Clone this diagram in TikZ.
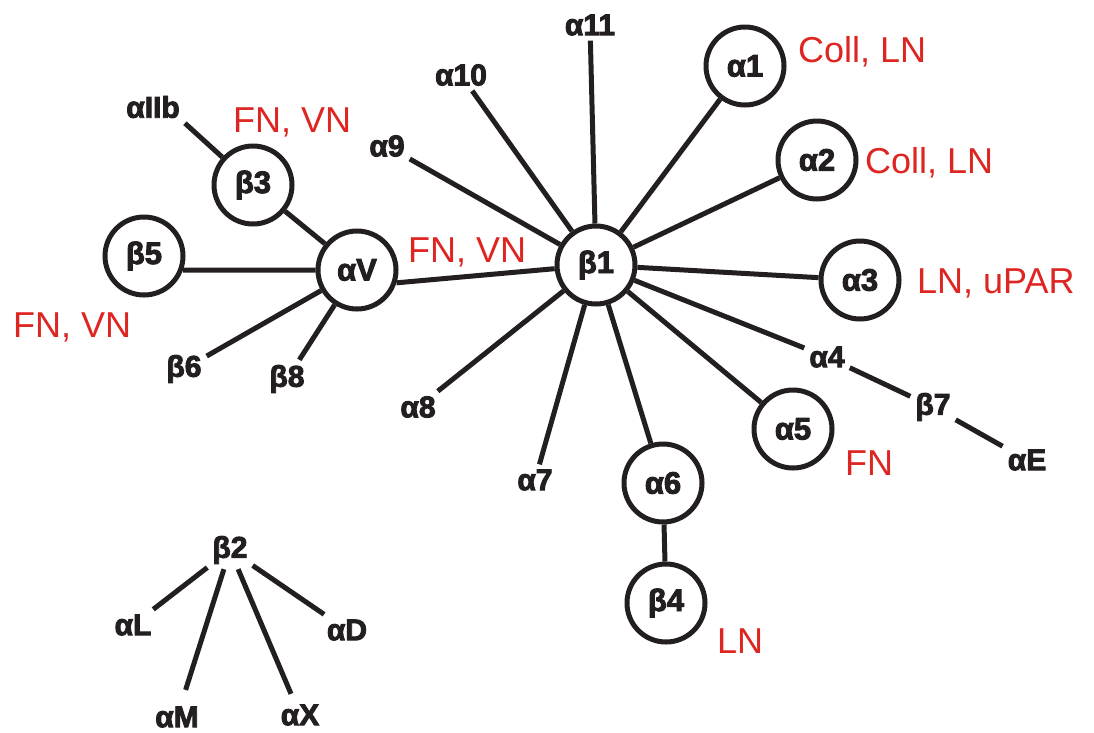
\documentclass[tikz,border=0pt]{standalone}
\usepackage{fontspec}
\setmainfont{Liberation Sans}
\newfontfamily\heavyfont{Liberation Sans}[BoldFeatures={FakeBold=3}]
\definecolor{ink}{RGB}{35,31,32}
\definecolor{redc}{RGB}{221,38,34}
\begin{document}
\begin{tikzpicture}[x=1pt,y=-1pt,
  ring/.style={circle,draw=ink,line width=5pt,minimum size=78pt,inner sep=0pt,
    font=\heavyfont\bfseries\fontsize{31}{33}\selectfont,text=ink},
  lbl/.style={inner sep=5pt,font=\heavyfont\bfseries\fontsize{30}{32}\selectfont,text=ink},
  note/.style={inner sep=0pt,anchor=base west,font=\fontsize{36}{40}\selectfont,text=redc},
  edge/.style={draw=ink,line width=5pt}]
\useasboundingbox (0,0) rectangle (1094,732);

% ring nodes
\node[ring] (b1) at (596,265) {β1};
\node[ring] (aV) at (357,270) {αV};
\node[ring] (b3) at (253,185) {β3};
\node[ring] (b5) at (144,256) {β5};
\node[ring] (a1) at (745,66) {α1};
\node[ring] (a2) at (817,160) {α2};
\node[ring] (a3) at (860,280) {α3};
\node[ring] (a5) at (793,429) {α5};
\node[ring] (a6) at (663,483) {α6};
\node[ring] (b4) at (666,603) {β4};

% plain labels
\node[lbl] (a11) at (590,25) {α11};
\node[lbl] (a10) at (461,75) {α10};
\node[lbl] (a9) at (387,146) {α9};
\node[lbl] (aIIb) at (153,107) {αIIb};
\node[lbl] (b6) at (184,369) {β6};
\node[lbl] (b8) at (287,379) {β8};
\node[lbl] (a8) at (418,407) {α8};
\node[lbl] (a7) at (535,480) {α7};
\node[lbl] (a4) at (827,357) {α4};
\node[lbl] (b7) at (933,407) {β7};
\node[lbl] (aE) at (1027,460) {αE};
\node[lbl] (b2) at (230,550) {β2};
\node[lbl] (aL) at (133,625) {αL};
\node[lbl] (aD) at (347,630) {αD};
\node[lbl] (aM) at (177,717) {αM};
\node[lbl] (aX) at (300,715) {αX};

% red annotations
\node[note] (n1) at (798,62) {Coll, LN};
\node[note] (n2) at (865,173) {Coll, LN};
\node[note] (n3) at (917,293) {LN, uPAR};
\node[note] (n4) at (233,132) {FN, VN};
\node[note] (n5) at (13,337) {FN, VN};
\node[note] (n6) at (408,262) {FN, VN};
\node[note] (n7) at (845,475) {FN};
\node[note] (n8) at (717,653) {LN};

% connectors
\draw[edge] (b1) -- (a11);
\draw[edge] (b1) -- (a10);
\draw[edge] (b1) -- (a9);
\draw[edge] (b1) -- (a1);
\draw[edge] (b1) -- (a2);
\draw[edge] (b1) -- (a3);
\draw[edge] (b1) -- (a4);
\draw[edge] (b1) -- (a5);
\draw[edge] (b1) -- (a6);
\draw[edge] (b1) -- (a7);
\draw[edge] (b1) -- (a8);
\draw[edge] (aV.-18) -- (b1);
\draw[edge] (a6) -- (b4);
\draw[edge] (a4) -- (b7);
\draw[edge] (b7) -- (aE);
\draw[edge] (aV) -- (b3);
\draw[edge] (b5.-20) -- (aV.west);
\draw[edge] (aV) -- (b6);
\draw[edge] (aV) -- (b8);
\draw[edge] (b3) -- (aIIb.south east);
\draw[edge] (b2) -- (aL);
\draw[edge,shorten >=12pt] (b2) -- (aM);
\draw[edge,shorten >=6pt] (b2) -- (aX);
\draw[edge] (b2) -- (aD);
\end{tikzpicture}
\end{document}
